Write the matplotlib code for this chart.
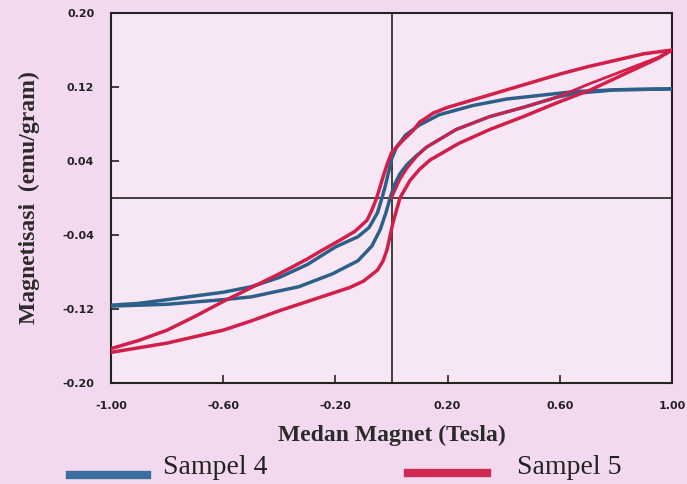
import matplotlib.pyplot as plt

# Sampel 4 - descending branch (field from +1 to -1)
s4_down_x = [1.0, 0.8, 0.65, 0.53, 0.41, 0.29, 0.17, 0.10, 0.05, 0.018, 0.0, -0.012, -0.023,
             -0.034, -0.05, -0.08, -0.12, -0.2, -0.3, -0.4, -0.5, -0.6, -0.75, -0.9, -1.0]
s4_down_y = [0.118, 0.117, 0.115, 0.111, 0.107, 0.100, 0.090, 0.079, 0.068, 0.055, 0.042, 0.026,
             0.012, 0.0, -0.016, -0.032, -0.042, -0.053, -0.072, -0.086, -0.096, -0.102, -0.108,
             -0.114, -0.116]
# Sampel 4 - ascending branch (field from -1 to +1)
s4_up_x = [-1.0, -0.8, -0.6, -0.5, -0.33, -0.21, -0.12, -0.07, -0.04, -0.02, -0.005, 0.01,
           0.03, 0.055, 0.09, 0.125, 0.23, 0.35, 0.47, 0.59, 0.65, 0.8, 1.0]
s4_up_y = [-0.117, -0.115, -0.110, -0.107, -0.096, -0.082, -0.068, -0.052, -0.034, -0.016, 0.0,
           0.014, 0.026, 0.036, 0.046, 0.055, 0.074, 0.088, 0.098, 0.109, 0.113, 0.117, 0.118]

# Sampel 5 - descending branch
s5_down_x = [1.0, 0.9, 0.8, 0.7, 0.6, 0.5, 0.4, 0.3, 0.2, 0.15, 0.1, 0.077, 0.05, 0.03, 0.0,
             -0.015, -0.03, -0.053, -0.07, -0.087, -0.13, -0.18, -0.25, -0.3, -0.4, -0.5, -0.6,
             -0.7, -0.8, -0.9, -1.0]
s5_down_y = [0.160, 0.156, 0.149, 0.142, 0.134, 0.125, 0.116, 0.107, 0.098, 0.092, 0.082, 0.073,
             0.065, 0.059, 0.049, 0.037, 0.023, 0.0, -0.013, -0.024, -0.036, -0.045, -0.057,
             -0.066, -0.082, -0.097, -0.112, -0.128, -0.143, -0.154, -0.163]
# Sampel 5 - ascending branch
s5_up_x = [-1.0, -0.9, -0.8, -0.7, -0.6, -0.5, -0.4, -0.3, -0.2, -0.15, -0.1, -0.05, -0.03,
           -0.016, 0.005, 0.03, 0.066, 0.1, 0.137, 0.24, 0.35, 0.47, 0.59, 0.71, 0.83, 0.95, 1.0]
s5_up_y = [-0.167, -0.162, -0.157, -0.150, -0.143, -0.133, -0.122, -0.112, -0.102, -0.097,
           -0.090, -0.078, -0.068, -0.056, -0.027, 0.0, 0.019, 0.031, 0.041, 0.059, 0.074, 0.088,
           0.103, 0.117, 0.134, 0.151, 0.160]
# Sampel 5 - initial magnetization curve
s5_init_x = [0.0, 0.03, 0.055, 0.09, 0.125, 0.23, 0.35, 0.47, 0.59, 0.71, 0.83, 0.95, 1.0]
s5_init_y = [0.0, 0.020, 0.032, 0.045, 0.055, 0.074, 0.088, 0.098, 0.109, 0.124, 0.138, 0.152, 0.160]

x_ticks = [-1.0, -0.6, -0.2, 0.2, 0.6, 1.0]
x_labels = ["-1.00", "-0.60", "-0.20", "0.20", "0.60", "1.00"]
y_ticks = [-0.20, -0.12, -0.04, 0.04, 0.12, 0.20]
y_labels = ["-0.20", "-0.12", "-0.04", "0.04", "0.12", "0.20"]

blue = "#2c6088"
red = "#d21e4a"

fig = plt.figure(figsize=(6.87, 4.84), dpi=100, facecolor="#f3d9ef")
ax = fig.add_axes([0.1616, 0.209, 0.8166, 0.764])
ax.set_facecolor("#f7e7f4")

ax.plot(s4_down_x, s4_down_y, color=blue, lw=2.5, zorder=3)
ax.plot(s4_up_x, s4_up_y, color=blue, lw=2.5, zorder=3)
ax.plot(s5_init_x, s5_init_y, color=red, lw=2.0, zorder=4)
ax.plot(s5_down_x, s5_down_y, color=red, lw=2.5, zorder=4)
ax.plot(s5_up_x, s5_up_y, color=red, lw=2.5, zorder=4)

ax.axhline(0, color="#222222", lw=1.2, zorder=2)
ax.axvline(0, color="#222222", lw=1.2, zorder=2)

ax.set_xlim(-1, 1)
ax.set_ylim(-0.2, 0.2)
ax.set_xticks(x_ticks)
ax.set_xticklabels(x_labels)
ax.set_yticks(y_ticks)
ax.set_yticklabels(y_labels)
ax.tick_params(direction="in", length=6, width=1.2, color="#222222")
ax.tick_params(axis="x", pad=13)
ax.tick_params(axis="y", pad=12)
for lab in ax.get_xticklabels() + ax.get_yticklabels():
    lab.set_fontfamily("DejaVu Sans")
    lab.set_fontweight("bold")
    lab.set_fontsize(8)
    lab.set_color("#222222")
for sp in ax.spines.values():
    sp.set_linewidth(1.5)
    sp.set_color("#222222")

ax.set_xlabel("Medan Magnet (Tesla)", family="Liberation Serif", weight="bold",
              fontsize=17, color="#2a2a2a", labelpad=10)
ax.set_ylabel("Magnetisasi  (emu/gram)", family="Liberation Serif", weight="bold",
              fontsize=17, color="#2a2a2a", labelpad=16)

# legend drawn in figure coordinates below the axes
fig.lines.append(plt.Line2D([70 / 687, 147 / 687], [1 - 475 / 484] * 2, transform=fig.transFigure,
                            color="#3a6e9e", lw=6))
fig.text(163 / 687, 1 - 468 / 484, "Sampel 4", family="Liberation Serif", fontsize=20,
         color="#222222", va="center")
fig.lines.append(plt.Line2D([408 / 687, 487 / 687], [1 - 473 / 484] * 2, transform=fig.transFigure,
                            color="#cc2a50", lw=6))
fig.text(517 / 687, 1 - 468 / 484, "Sampel 5", family="Liberation Serif", fontsize=20,
         color="#222222", va="center")

fig.savefig("out.png", dpi=100, facecolor=fig.get_facecolor())
